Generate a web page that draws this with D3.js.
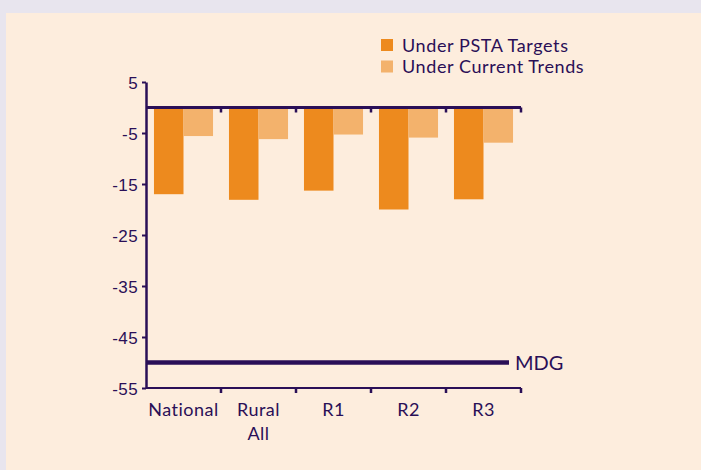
<!DOCTYPE html>
<html>
<head>
<meta charset="utf-8">
<script src="https://cdn.jsdelivr.net/npm/d3@7.9.0/dist/d3.min.js"></script>
<style>
  body { margin: 0; background: #e8e5ee; }
  svg { display: block; font-family: Lato, "Open Sans", sans-serif; }
</style>
</head>
<body>
<svg id="chart" width="701" height="470"></svg>
<script>
const categories = [["National"], ["Rural", "All"], ["R1"], ["R2"], ["R3"]];
const seriesNames = ["Under PSTA Targets", "Under Current Trends"];
const psta = [-17.0, -18.1, -16.3, -20.0, -18.0];
const current = [-5.6, -6.2, -5.3, -5.9, -6.9];
const yTicks = [5, -5, -15, -25, -35, -45, -55];
const mdg = -50;

const ink = "#2a0f57";
const colors = ["#ed8a1e", "#f3b26c"];

const svg = d3.select("#chart");

// panel
svg.append("rect")
    .attr("x", 6).attr("y", 13)
    .attr("width", 695).attr("height", 457)
    .attr("fill", "#fdeddd");

const keys = categories.map(c => c.join(" "));
const x = d3.scaleBand().domain(keys).range([146, 521]).paddingInner(0).paddingOuter(0);
const x1 = d3.scaleBand().domain(seriesNames).range([0, x.bandwidth()]).paddingInner(0).paddingOuter(0.27);
const y = d3.scaleLinear().domain([-55, 5]).range([388, 82]);

const rows = keys.map((k, i) => ({ key: k, values: [psta[i], current[i]] }));

// bars
const groups = svg.append("g").selectAll("g")
    .data(rows)
    .join("g")
    .attr("transform", d => `translate(${x(d.key)},0)`);

groups.selectAll("rect")
    .data(d => d.values.map((v, j) => ({ name: seriesNames[j], value: v, j })))
    .join("rect")
    .attr("x", d => x1(d.name))
    .attr("width", x1.bandwidth())
    .attr("y", d => y(Math.max(0, d.value)))
    .attr("height", d => Math.abs(y(d.value) - y(0)))
    .attr("fill", d => colors[d.j]);

// y axis
const yAxis = svg.append("g")
    .attr("transform", "translate(146,0)")
    .call(d3.axisLeft(y).tickValues(yTicks).tickFormat(d => String(d)).tickSize(4).tickSizeOuter(0).tickPadding(4));
yAxis.select(".domain").attr("stroke", ink).attr("stroke-width", 2.5);
yAxis.selectAll(".tick line").attr("stroke", ink).attr("stroke-width", 2);
yAxis.selectAll(".tick text")
    .attr("fill", ink)
    .style("font-size", "17px")
    .style("letter-spacing", "0.4px")
    .attr("dy", "0.36em");

// band axes at -55 and at zero
const boundaries = keys.map(k => x(k)).concat([x.range()[1]]);
function bandAxis(yPos, width) {
    const g = svg.append("g");
    g.append("line")
        .attr("x1", x.range()[0]).attr("x2", x.range()[1])
        .attr("y1", yPos).attr("y2", yPos)
        .attr("stroke", ink).attr("stroke-width", width);
    g.selectAll(".tk")
        .data(boundaries.slice(1))
        .join("line")
        .attr("x1", d => d).attr("x2", d => d)
        .attr("y1", yPos).attr("y2", yPos + 5)
        .attr("stroke", ink).attr("stroke-width", 2.5);
    return g;
}
bandAxis(y(-55), 2);
bandAxis(y(0), 3);

// x labels
const labels = svg.append("g").selectAll("text")
    .data(categories)
    .join("text")
    .attr("text-anchor", "middle")
    .attr("fill", ink)
    .style("font-size", "18px")
    .style("letter-spacing", "0.5px")
    .attr("transform", (d, i) => `translate(${x(keys[i]) + x.bandwidth() / 2},416)`);
labels.selectAll("tspan")
    .data(d => d)
    .join("tspan")
    .attr("x", 0)
    .attr("y", (d, i) => i * 24)
    .text(d => d);

// MDG line
svg.append("line")
    .attr("x1", 146).attr("x2", 509)
    .attr("y1", y(mdg)).attr("y2", y(mdg))
    .attr("stroke", ink).attr("stroke-width", 4.5);
svg.append("text")
    .attr("x", 515).attr("y", y(mdg) + 7)
    .attr("fill", ink)
    .style("font-size", "20px")
    .text("MDG");

// legend
const legend = svg.append("g").attr("transform", "translate(381,39)");
const li = legend.selectAll("g")
    .data(seriesNames)
    .join("g")
    .attr("transform", (d, i) => `translate(0,${i * 21.5})`);
li.append("rect")
    .attr("width", 12).attr("height", 12)
    .attr("fill", (d, i) => colors[i]);
li.append("text")
    .attr("x", 21).attr("y", 12.5)
    .attr("fill", ink)
    .style("font-size", "18px")
    .style("letter-spacing", "0.6px")
    .text(d => d);
</script>
</body>
</html>
